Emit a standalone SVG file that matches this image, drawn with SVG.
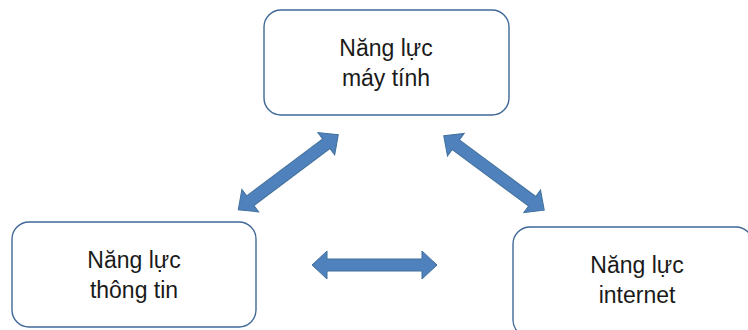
<svg xmlns="http://www.w3.org/2000/svg" xmlns:xlink="http://www.w3.org/1999/xlink" width="748" height="330" viewBox="0 0 748 330">
<style>
.box{fill:#ffffff;stroke:#3F6896;stroke-width:1.4}
.lbl{font-family:"Liberation Sans",Arial,sans-serif;font-size:23px;fill:#1a1a1a;text-anchor:middle}
.arr{fill:#4F81BD;stroke:#41719C;stroke-width:1}
</style>
<defs>
<path id="dbl" d="M -62.5,0 L -47.5,-14 L -47.5,-6 L 47.5,-6 L 47.5,-14 L 62.5,0 L 47.5,14 L 47.5,6 L -47.5,6 L -47.5,14 Z"/>
</defs>
<rect width="748" height="330" fill="#ffffff"/>
<g id="connectors">
<use xlink:href="#dbl" class="arr" transform="translate(288.3,172.2) rotate(-36.87)"/>
<use xlink:href="#dbl" class="arr" transform="translate(494,173) rotate(36.5)"/>
<use xlink:href="#dbl" class="arr" transform="translate(374.5,265)"/>
</g>
<g id="node-may-tinh">
<rect class="box" x="264" y="10" width="245" height="105" rx="17" ry="17"/>
<text class="lbl" x="386" y="56">Năng lực</text>
<text class="lbl" x="386" y="86">máy tính</text>
</g>
<g id="node-thong-tin">
<rect class="box" x="12" y="222" width="244" height="105" rx="17" ry="17"/>
<text class="lbl" x="134" y="268">Năng lực</text>
<text class="lbl" x="134" y="298">thông tin</text>
</g>
<g id="node-internet">
<rect class="box" x="513" y="227" width="240" height="110" rx="17" ry="17"/>
<text class="lbl" x="637" y="273">Năng lực</text>
<text class="lbl" x="637" y="303">internet</text>
</g>
</svg>
